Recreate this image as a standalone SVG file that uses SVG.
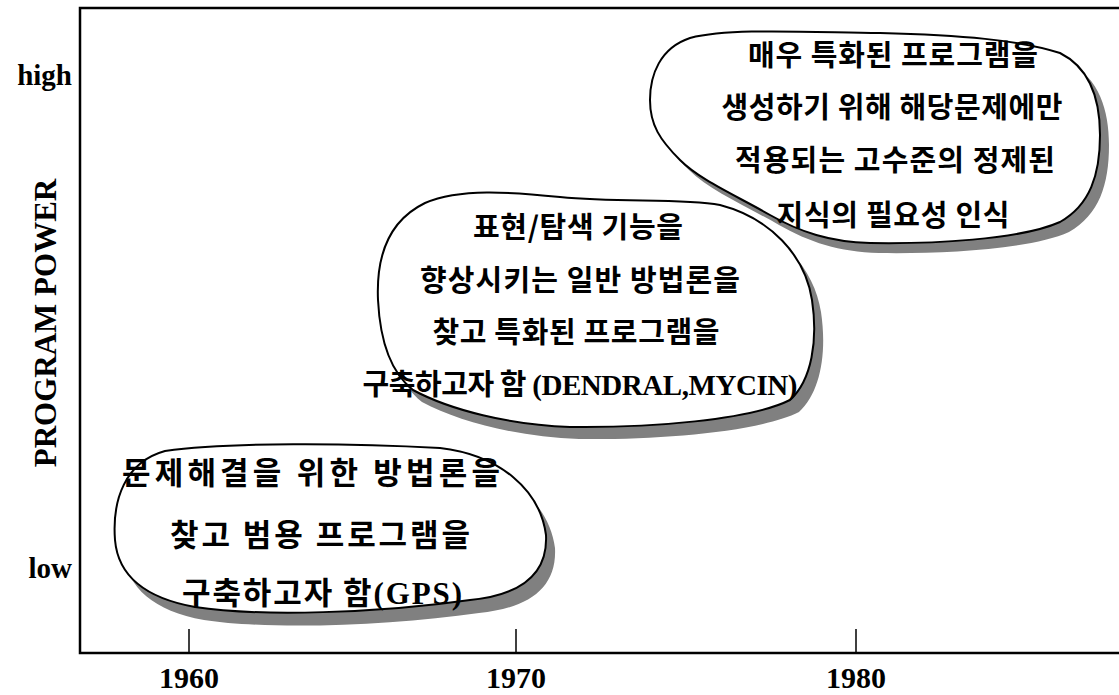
<svg xmlns="http://www.w3.org/2000/svg" width="1119" height="695" viewBox="0 0 1119 695">
<style>
.axis{stroke:#000;stroke-width:2.5;fill:none}
.tick{stroke:#000;stroke-width:1.5}
.lbl{font-family:"Liberation Serif","Times New Roman",serif;font-weight:bold;font-size:29px;fill:#000}
.yr{font-family:"Liberation Serif","Times New Roman",serif;font-weight:bold;font-size:30px;fill:#000;text-anchor:middle}
.blob{fill:#fff;stroke:#000;stroke-width:2}
.shadow{fill:#808080;stroke:none}
.kt{font-family:"Noto Sans CJK KR",sans-serif;font-weight:bold;font-size:29px;fill:#000;text-anchor:middle}
.kb{font-size:31px}
.lat{font-family:"Liberation Serif","Times New Roman",serif;font-weight:bold}
</style>
<rect width="1119" height="695" fill="#fff"/>
<g id="axes">
<path class="axis" d="M1119,8 H80 V653 H1119"/>
<line class="tick" x1="189" y1="629" x2="189" y2="653"/>
<line class="tick" x1="516" y1="629" x2="516" y2="653"/>
<line class="tick" x1="856" y1="629" x2="856" y2="653"/>
<text class="yr" x="189" y="688">1960</text>
<text class="yr" x="516" y="688">1970</text>
<text class="yr" x="856" y="688">1980</text>
<text class="lbl" x="72" y="85" text-anchor="end">high</text>
<text class="lbl" x="72" y="578" text-anchor="end">low</text>
<text class="lbl" transform="translate(56,323) rotate(-90)" text-anchor="middle" style="font-size:31px">PROGRAM POWER</text>
</g>
<g id="connectors"></g>
<g id="node-1960">
<path class="shadow" transform="translate(9,13)" d="M115,540 C112,500 125,462 165,451 C230,442 350,443 440,448 C500,455 540,490 546,535 C548,575 520,595 470,600 C380,613 260,617 195,607 C145,598 118,575 115,540 Z"/>
<path class="blob" d="M115,540 C112,500 125,462 165,451 C230,442 350,443 440,448 C500,455 540,490 546,535 C548,575 520,595 470,600 C380,613 260,617 195,607 C145,598 118,575 115,540 Z"/>
<text class="kt kb" x="311" y="484" textLength="378" lengthAdjust="spacing">문제해결을 위한 방법론을</text>
<text class="kt kb" x="320" y="546" textLength="300" lengthAdjust="spacing">찾고 범용 프로그램을</text>
<text class="kt kb" x="322" y="604" textLength="280" lengthAdjust="spacing">구축하고자 함<tspan class="lat">(GPS)</tspan></text>
</g>
<g id="node-1970">
<path class="shadow" transform="translate(9,12)" d="M378,300 C376,255 390,220 425,203 C460,188 510,192 560,197 C620,203 680,198 720,205 C770,218 805,255 812,300 C818,340 812,380 790,400 C750,420 650,428 570,427 C510,425 450,410 413,390 C390,372 380,340 378,300 Z"/>
<path class="blob" d="M378,300 C376,255 390,220 425,203 C460,188 510,192 560,197 C620,203 680,198 720,205 C770,218 805,255 812,300 C818,340 812,380 790,400 C750,420 650,428 570,427 C510,425 450,410 413,390 C390,372 380,340 378,300 Z"/>
<text class="kt" x="578" y="238" textLength="210" lengthAdjust="spacing">표현/탐색 기능을</text>
<text class="kt" x="580" y="291" textLength="320" lengthAdjust="spacing">향상시키는 일반 방법론을</text>
<text class="kt" x="576" y="343" textLength="287" lengthAdjust="spacing">찾고 특화된 프로그램을</text>
<text class="kt" x="580" y="395" textLength="435" lengthAdjust="spacing">구축하고자 함 <tspan class="lat">(DENDRAL,MYCIN)</tspan></text>
</g>
<g id="node-1980">
<path class="shadow" transform="translate(9,10)" d="M650,100 C650,75 660,48 690,38 C730,28 800,32 880,33 C960,35 1020,40 1060,53 C1090,68 1100,100 1100,135 C1100,175 1090,205 1060,222 C1020,240 930,244 870,243 C830,242 800,232 770,215 C735,195 700,180 680,160 C660,140 650,125 650,100 Z"/>
<path class="blob" d="M650,100 C650,75 660,48 690,38 C730,28 800,32 880,33 C960,35 1020,40 1060,53 C1090,68 1100,100 1100,135 C1100,175 1090,205 1060,222 C1020,240 930,244 870,243 C830,242 800,232 770,215 C735,195 700,180 680,160 C660,140 650,125 650,100 Z"/>
<text class="kt" x="893" y="66" textLength="290" lengthAdjust="spacing">매우 특화된 프로그램을</text>
<text class="kt" x="892" y="118" textLength="341" lengthAdjust="spacing">생성하기 위해 해당문제에만</text>
<text class="kt" x="895" y="171" textLength="320" lengthAdjust="spacing">적용되는 고수준의 정제된</text>
<text class="kt" x="893" y="226" textLength="233" lengthAdjust="spacing">지식의 필요성 인식</text>
</g>
</svg>
